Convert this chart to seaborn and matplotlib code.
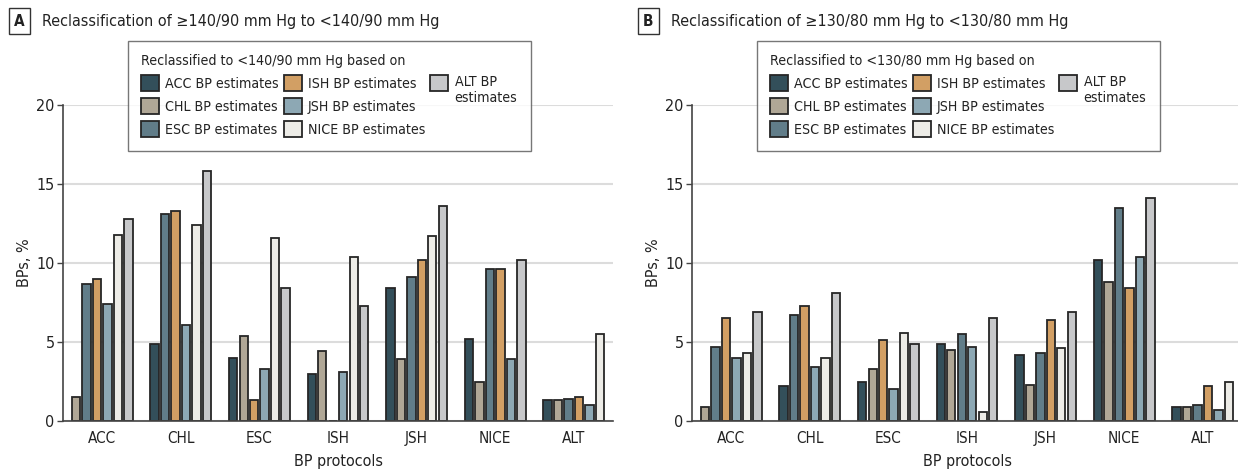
import matplotlib
matplotlib.use("Agg")
import matplotlib.pyplot as plt
from matplotlib import font_manager
from matplotlib.patches import Patch
import seaborn as sns
import pandas as pd
import numpy as np

# ---------------- data ----------------
protocols = ["ACC", "CHL", "ESC", "ISH", "JSH", "NICE", "ALT"]
estimates = ["ACC", "CHL", "ESC", "ISH", "JSH", "NICE", "ALT"]
legend_labels = ["ACC BP estimates", "CHL BP estimates", "ESC BP estimates",
                 "ISH BP estimates", "JSH BP estimates", "NICE BP estimates",
                 "ALT BP\nestimates"]

# Panel A: reclassification of >=140/90 to <140/90 (values per protocol, None = same protocol)
a_acc = [None, 4.9, 4.0, 3.0, 8.4, 5.2, 1.3]
a_chl = [1.5, None, 5.4, 4.4, 3.9, 2.5, 1.3]
a_esc = [8.7, 13.1, None, 0.0, 9.1, 9.6, 1.4]
a_ish = [9.0, 13.3, 1.3, None, 10.2, 9.6, 1.5]
a_jsh = [7.4, 6.1, 3.3, 3.1, None, 3.9, 1.0]
a_nice = [11.8, 12.4, 11.6, 10.4, 11.7, None, 5.5]
a_alt = [12.8, 15.8, 8.4, 7.3, 13.6, 10.2, None]

# Panel B: reclassification of >=130/80 to <130/80
b_acc = [None, 2.2, 2.5, 4.9, 4.2, 10.2, 0.9]
b_chl = [0.9, None, 3.3, 4.5, 2.3, 8.8, 0.9]
b_esc = [4.7, 6.7, None, 5.5, 4.3, 13.5, 1.0]
b_ish = [6.5, 7.3, 5.1, None, 6.4, 8.4, 2.2]
b_jsh = [4.0, 3.4, 2.0, 4.7, None, 10.4, 0.7]
b_nice = [4.3, 4.0, 5.6, 0.6, 4.6, None, 2.5]
b_alt = [6.9, 8.1, 4.9, 6.5, 6.9, 14.1, None]

colors = ["#2d5260", "#b4a892", "#5a7f90", "#e4a052", "#86aabb", "#eeede6", "#c7c8ca"]

# ---------------- fonts ----------------
sns.set_theme(style="white")
names = {f.name for f in font_manager.fontManager.ttflist}
stretch = "normal"
if "Liberation Sans Narrow" in names:
    fam = "Liberation Sans Narrow"
elif any(f.name == "DejaVu Sans" and f.stretch == "condensed" for f in font_manager.fontManager.ttflist):
    fam = "DejaVu Sans"
    stretch = "condensed"
elif "Roboto Condensed" in names:
    fam = "Roboto Condensed"
else:
    fam = "Liberation Sans"
plt.rcParams["font.family"] = [fam, "DejaVu Sans"]
plt.rcParams["font.stretch"] = stretch

TXT = "#222222"
W, H = 1238, 473
fig = plt.figure(figsize=(W / 100, H / 100), dpi=100)


def make_df(series):
    rows = []
    step = 0.8 / 6
    for gi, prot in enumerate(protocols):
        present = [(e, s[gi]) for e, s in zip(estimates, series) if s[gi] is not None]
        n = len(present)
        for k, (e, v) in enumerate(present):
            rows.append({"protocol": prot, "estimate": e, "value": v,
                         "pos": gi + (k - (n - 1) / 2) * step})
    return pd.DataFrame(rows)


def draw_panel(left_px, series, letter, title, legend_title):
    ax = fig.add_axes([left_px / W, 52 / H, 550 / W, 316 / H])
    df = make_df(series)
    sns.barplot(data=df, x="pos", y="value", hue="estimate", hue_order=estimates,
                palette=colors, native_scale=True, dodge=False, width=0.8,
                errorbar=None, edgecolor="#262626", linewidth=1.3, ax=ax)
    ax.set_xlim(-0.5, 6.5)
    ax.set_ylim(0, 20)
    ax.set_yticks([0, 5, 10, 15, 20])
    ax.set_xticks(range(len(protocols)))
    ax.set_xticklabels(protocols)
    ax.yaxis.grid(True, color="#dcdcdc", linewidth=1.5)
    ax.xaxis.grid(False)
    ax.set_axisbelow(True)
    for s in ["top", "right"]:
        ax.spines[s].set_visible(False)
    for s in ["left", "bottom"]:
        ax.spines[s].set_color("#444444")
        ax.spines[s].set_linewidth(1.2)
    ax.tick_params(axis="y", length=4, width=1.0, color="#444444", pad=2,
                   labelsize=11.5, labelcolor=TXT, left=True)
    ax.tick_params(axis="x", length=0, pad=7, labelsize=11, labelcolor=TXT)
    ax.set_xlabel("BP protocols", fontsize=11.5, color=TXT)
    ax.set_ylabel("BPs, %", fontsize=11.5, color=TXT)
    ax.xaxis.set_label_coords(0.5, -0.105)
    ax.yaxis.set_label_coords(-0.057, 0.5)

    handles, _ = ax.get_legend_handles_labels()
    if ax.get_legend() is not None:
        ax.get_legend().remove()
    blank = Patch(facecolor="none", edgecolor="none")
    leg = ax.legend(list(handles) + [blank], legend_labels + [""],
                    title=legend_title, ncol=3,
                    loc="upper left", bbox_to_anchor=(0.118, 1.203), borderaxespad=0,
                    fontsize=10.2, title_fontsize=10.2, alignment="left",
                    frameon=True, fancybox=False, edgecolor="#555555",
                    handlelength=1.25, handleheight=1.45, handletextpad=0.45,
                    columnspacing=0.35, labelspacing=0.44, borderpad=0.95)
    leg.get_frame().set_linewidth(1.0)
    leg.get_title().set_color(TXT)
    for t in leg.get_texts():
        t.set_color(TXT)
    try:
        hb = leg._legend_handle_box
        hb.align = "top"
        cols = hb.get_children()
        cols[2].get_children()[0].align = "top"
    except Exception:
        pass

    x0 = left_px - 49
    fig.text((x0 + 0) / W, 1 - 21 / H, letter, fontsize=11, fontweight="bold",
             color=TXT, ha="left", va="center",
             bbox=dict(boxstyle="square,pad=0.35", fc="white", ec="#333333", lw=1.0))
    fig.text((x0 + 28) / W, 1 - 21 / H, title, fontsize=11.5, color=TXT,
             ha="left", va="center")
    return ax


draw_panel(63, [a_acc, a_chl, a_esc, a_ish, a_jsh, a_nice, a_alt], "A",
           "Reclassification of \u2265140/90 mm Hg to <140/90 mm Hg",
           "Reclassified to <140/90 mm Hg based on")
draw_panel(692, [b_acc, b_chl, b_esc, b_ish, b_jsh, b_nice, b_alt], "B",
           "Reclassification of \u2265130/80 mm Hg to <130/80 mm Hg",
           "Reclassified to <130/80 mm Hg based on")

fig.savefig("out.png", dpi=100, facecolor="white")
